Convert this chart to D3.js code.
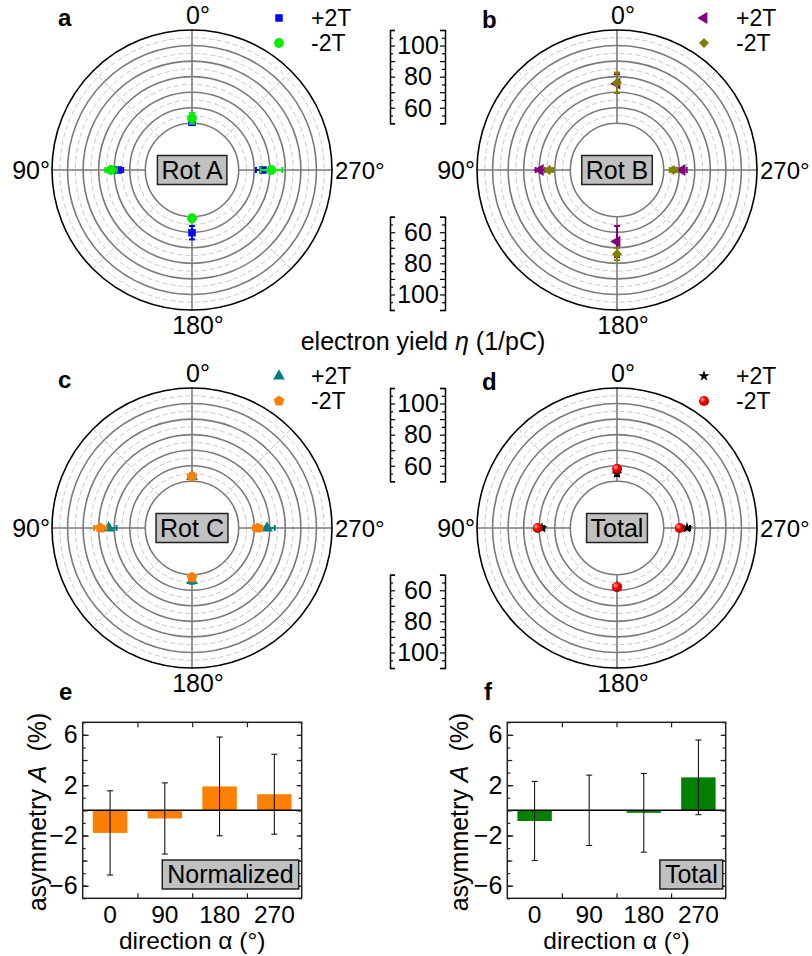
<!DOCTYPE html>
<html lang="en">
<head>
<meta charset="UTF-8">
<title>Electron yield</title>
<style>
  body { margin:0; background:#fff; }
  svg { display:block; font-family:"Liberation Sans", Arial, sans-serif; }
</style>
</head>
<body>
<div class="chart"></div>
<script src="https://d3js.org/d3.v7.min.js"></script>
<script>
// ---- data ----
const angles = [0, 90, 180, 270];

// Rot A
const rotA_plus = [50.6, 67.2, 60.3, 65.6];
const rotA_plusErr = [1.5, 3, 4.3, 4.5];
const rotA_minus = [53.3, 72.1, 51, 71];
const rotA_minusErr = [3.5, 3.7, 2, 7];
// Rot B
const rotB_plus = [75.5, 69.3, 66, 61.8];
const rotB_plusErr = [6, 3, 10, 3];
const rotB_minus = [76.1, 63.5, 74, 56.4];
const rotB_minusErr = [6.5, 2.5, 4, 2.5];
// Rot C
const rotC_plus = [53, 73.5, 53.8, 68.2];
const rotC_plusErr = [1.5, 5, 2, 5];
const rotC_minus = [53.2, 79, 51.7, 62.2];
const rotC_minusErr = [2, 4, 2, 3];
// Total
const total_plus = [55, 68.2, 57.5, 65];
const total_plusErr = [1.5, 1.5, 1.5, 2];
const total_minus = [58.1, 71, 58, 60.3];
const total_minusErr = [1.5, 1.5, 1.5, 1.5];

const radialDomain = [50, 110];
const scaleLabels = [60, 80, 100];

// asymmetry
const directions = ["0", "90", "180", "270"];
const asymNorm = [-1.8, -0.65, 1.9, 1.28];
const asymNormErr = [3.35, 2.83, 3.93, 3.18];
const asymTotal = [-0.85, 0, -0.2, 2.62];
const asymTotalErr = [3.15, 2.8, 3.13, 2.97];
const asymTicks = [-6, -2, 2, 6];

// ---- setup ----
const width = 812, height = 956;
const R = 140, R0 = 46.7;
const FS = 25;

const svg = d3.select('.chart').append('svg')
  .attr('width', width).attr('height', height);

const defs = svg.append('defs');
const grad = defs.append('radialGradient').attr('id', 'ball')
  .attr('cx', '35%').attr('cy', '35%').attr('r', '65%');
grad.append('stop').attr('offset', '0%').attr('stop-color', '#ffb0b0');
grad.append('stop').attr('offset', '45%').attr('stop-color', '#ff0000');
grad.append('stop').attr('offset', '100%').attr('stop-color', '#b00000');

const rScale = d3.scaleLinear().domain(radialDomain).range([R0, R]);

// custom pentagon for d3.symbol
const symbolPentagon = {
  draw(ctx, size) {
    const r = Math.sqrt(size / 2.378);
    for (let i = 0; i < 5; i++) {
      const a = -Math.PI / 2 + i * 2 * Math.PI / 5;
      if (i === 0) ctx.moveTo(r * Math.cos(a), r * Math.sin(a));
      else ctx.lineTo(r * Math.cos(a), r * Math.sin(a));
    }
    ctx.closePath();
  }
};

const panels = [
  { cx: 192, cy: 170, letter: 'a', lx: 58, ly: 26, name: 'Rot A',
    series: [
      { label: '+2T', v: rotA_plus, e: rotA_plusErr, color: '#0000ff', type: d3.symbolSquare, size: 56, rot: 0 },
      { label: '-2T', v: rotA_minus, e: rotA_minusErr, color: '#00ee00', type: d3.symbolCircle, size: 75, rot: 0 }
    ] },
  { cx: 617, cy: 170, letter: 'b', lx: 482, ly: 28, name: 'Rot B',
    series: [
      { label: '+2T', v: rotB_plus, e: rotB_plusErr, color: '#800080', type: d3.symbolTriangle, size: 60, rot: -90 },
      { label: '-2T', v: rotB_minus, e: rotB_minusErr, color: '#808000', type: d3.symbolSquare, size: 50, rot: 45 }
    ] },
  { cx: 192, cy: 528, letter: 'c', lx: 58, ly: 388, name: 'Rot C',
    series: [
      { label: '+2T', v: rotC_plus, e: rotC_plusErr, color: '#008080', type: d3.symbolTriangle, size: 60, rot: 0 },
      { label: '-2T', v: rotC_minus, e: rotC_minusErr, color: '#ff8000', type: symbolPentagon, size: 75, rot: 0 }
    ] },
  { cx: 617, cy: 528, letter: 'd', lx: 482, ly: 390, name: 'Total',
    series: [
      { label: '+2T', v: total_plus, e: total_plusErr, color: '#000000', type: d3.symbolStar, size: 40, rot: 0 },
      { label: '-2T', v: total_minus, e: total_minusErr, color: 'url(#ball)', type: d3.symbolCircle, size: 80, rot: 0, ecolor: '#ff0000' }
    ] }
];

function pos(a, v) {
  const t = a * Math.PI / 180, r = rScale(v);
  return [-r * Math.sin(t), -r * Math.cos(t)];
}

function marker(sel, s, x, y) {
  sel.append('path')
    .attr('d', d3.symbol().type(s.type).size(s.size)())
    .attr('transform', `translate(${x},${y}) rotate(${s.rot})`)
    .attr('fill', s.color);
}

function boxLabel(g, x, y, txt, fs) {
  const t = g.append('text').attr('x', x).attr('y', y)
    .attr('text-anchor', 'middle').attr('dy', '0.35em')
    .attr('font-size', fs).text(txt);
  const bb = t.node().getBBox();
  g.insert('rect', 'text')
    .attr('x', bb.x - 4).attr('y', y - 14.5)
    .attr('width', bb.width + 8).attr('height', 29)
    .attr('fill', '#c0c0c0').attr('stroke', '#222').attr('stroke-width', 1.5);
}

function polarPanel(p) {
  const g = svg.append('g').attr('transform', `translate(${p.cx},${p.cy})`);
  g.append('circle').attr('r', R).attr('fill', '#fff');

  // minor dashed rings
  g.selectAll('.dring').data(d3.range(55, 110, 10)).join('circle')
    .attr('r', d => rScale(d)).attr('fill', 'none')
    .attr('stroke', '#c8c8c8').attr('stroke-width', 1).attr('stroke-dasharray', '5,3');

  // diagonal dashed spokes
  g.selectAll('.dspoke').data([45, 135, 225, 315]).join('line')
    .attr('x1', d => pos(d, radialDomain[0])[0]).attr('y1', d => pos(d, radialDomain[0])[1])
    .attr('x2', d => pos(d, radialDomain[1])[0]).attr('y2', d => pos(d, radialDomain[1])[1])
    .attr('stroke', '#c8c8c8').attr('stroke-width', 1).attr('stroke-dasharray', '5,3');

  // major rings
  g.selectAll('.ring').data(d3.range(50, 101, 10)).join('circle')
    .attr('r', d => rScale(d)).attr('fill', 'none')
    .attr('stroke', '#7a7a7a').attr('stroke-width', 1.6);

  // spokes
  g.selectAll('.spoke').data(angles).join('line')
    .attr('x1', d => pos(d, radialDomain[0])[0]).attr('y1', d => pos(d, radialDomain[0])[1])
    .attr('x2', d => pos(d, radialDomain[1])[0]).attr('y2', d => pos(d, radialDomain[1])[1])
    .attr('stroke', '#7a7a7a').attr('stroke-width', 1.6);

  g.append('circle').attr('r', R).attr('fill', 'none').attr('stroke', '#000').attr('stroke-width', 1.6);

  // angle labels
  g.append('text').attr('x', 6).attr('y', -146).attr('text-anchor', 'middle').attr('font-size', FS).text('0°');
  g.append('text').attr('x', 6).attr('y', 164).attr('text-anchor', 'middle').attr('font-size', FS).text('180°');
  g.append('text').attr('x', -142).attr('y', 9).attr('text-anchor', 'end').attr('font-size', FS).text('90°');
  g.append('text').attr('x', 143).attr('y', 9).attr('text-anchor', 'start').attr('font-size', 24).text('270°');

  // data
  p.series.forEach(s => {
    const ec = s.ecolor || s.color;
    angles.forEach((a, i) => {
      const v = s.v[i], e = s.e[i];
      const t = a * Math.PI / 180;
      const px = Math.cos(t) * 3, py = -Math.sin(t) * 3;
      const [x1, y1] = pos(a, v - e), [x2, y2] = pos(a, v + e);
      g.append('line').attr('x1', x1).attr('y1', y1).attr('x2', x2).attr('y2', y2)
        .attr('stroke', ec).attr('stroke-width', 2);
      [[x1, y1], [x2, y2]].forEach(([x, y]) => {
        g.append('line').attr('x1', x - px).attr('y1', y - py).attr('x2', x + px).attr('y2', y + py)
          .attr('stroke', ec).attr('stroke-width', 2);
      });
      const [mx, my] = pos(a, v);
      marker(g, s, mx, my);
    });
  });

  boxLabel(g, 0, 0, p.name, FS);

  // legend
  p.series.forEach((s, i) => {
    const y = -152 + i * 25;
    marker(g, s, 87, y);
    g.append('text').attr('x', 119).attr('y', y + 8).attr('font-size', 23).text(s.label);
  });

  svg.append('text').attr('x', p.lx).attr('y', p.ly).attr('font-size', 24)
    .attr('font-weight', 'bold').text(p.letter);
}

panels.forEach(polarPanel);

// radial scale bars between panels
function scaleBar(cy, dir) {
  const y = d3.scaleLinear().domain(radialDomain)
    .range(dir < 0 ? [cy - R0, cy - R] : [cy + R0, cy + R]);
  const g = svg.append('g');
  const ticks = d3.range(50, 111, 5);
  const left = g.append('g').attr('transform', 'translate(390,0)')
    .call(d3.axisRight(y).tickValues(ticks).tickSize(3).tickSizeOuter(5).tickFormat(''));
  const right = g.append('g').attr('transform', 'translate(445,0)')
    .call(d3.axisLeft(y).tickValues(ticks).tickSize(3).tickSizeOuter(5).tickFormat(''));
  [left, right].forEach(a => {
    a.selectAll('.tick line').attr('x2', (d, i, n) => {
      const base = +d3.select(n[i]).attr('x2');
      return d % 10 === 0 ? base * 1.7 : base;
    }).attr('stroke', '#000').attr('stroke-width', 1.2);
    a.select('.domain').attr('stroke', '#000').attr('stroke-width', 1.5);
  });
  g.selectAll('.lbl').data(scaleLabels).join('text')
    .attr('x', 418).attr('y', d => y(d)).attr('dy', '0.35em')
    .attr('text-anchor', 'middle').attr('font-size', FS).text(d => d);
}
scaleBar(170, -1); scaleBar(170, 1);
scaleBar(528, -1); scaleBar(528, 1);

const yl = svg.append('text').attr('x', 423).attr('y', 350).attr('text-anchor', 'middle').attr('font-size', FS);
yl.append('tspan').text('electron yield ');
yl.append('tspan').attr('font-style', 'italic').text('η');
yl.append('tspan').text(' (1/pC)');

// ---- asymmetry bar charts ----
const yA = d3.scaleLinear().domain([-7, 7]).range([898.3, 722.3]);

function barPanel(p) {
  const x = d3.scaleBand().domain(directions).range([p.x0, p.x1]);
  const bw = x.bandwidth() * 0.63;
  const g = svg.append('g');

  g.append('rect').attr('x', p.x0).attr('y', yA(7)).attr('width', p.x1 - p.x0)
    .attr('height', yA(-7) - yA(7)).attr('fill', '#fff');

  g.selectAll('.bar').data(p.v).join('rect')
    .attr('x', (d, i) => x(directions[i]) + (x.bandwidth() - bw) / 2)
    .attr('y', d => yA(Math.max(0, d)))
    .attr('width', bw)
    .attr('height', d => Math.abs(yA(d) - yA(0)))
    .attr('fill', p.color);

  g.append('line').attr('x1', p.x0).attr('x2', p.x1).attr('y1', yA(0)).attr('y2', yA(0))
    .attr('stroke', '#000').attr('stroke-width', 1.5);

  p.v.forEach((v, i) => {
    const cx = x(directions[i]) + x.bandwidth() / 2;
    const e = p.e[i];
    g.append('line').attr('x1', cx).attr('x2', cx).attr('y1', yA(v - e)).attr('y2', yA(v + e))
      .attr('stroke', '#000').attr('stroke-width', 1);
    [v - e, v + e].forEach(t => g.append('line').attr('x1', cx - 3).attr('x2', cx + 3)
      .attr('y1', yA(t)).attr('y2', yA(t)).attr('stroke', '#000').attr('stroke-width', 1));
  });

  // axes
  const minor = d3.range(-7, 8, 1);
  const la = g.append('g').attr('transform', `translate(${p.x0},0)`)
    .call(d3.axisLeft(yA).tickValues(asymTicks).tickSize(-6).tickPadding(5));
  la.selectAll('text').attr('font-size', FS).attr('font-family', null).attr('fill', '#000');
  g.append('g').attr('transform', `translate(${p.x0},0)`)
    .call(d3.axisLeft(yA).tickValues(minor.filter(d => d % 2 === 0)).tickSize(-5).tickFormat(''));
  g.append('g').attr('transform', `translate(${p.x0},0)`)
    .call(d3.axisLeft(yA).tickValues(minor).tickSize(-3).tickFormat(''));
  g.append('g').attr('transform', `translate(${p.x1},0)`)
    .call(d3.axisRight(yA).tickValues(minor.filter(d => d % 2 === 0)).tickSize(-5).tickFormat(''));
  g.append('g').attr('transform', `translate(${p.x1},0)`)
    .call(d3.axisRight(yA).tickValues(minor).tickSize(-3).tickFormat(''));

  const edges = directions.slice(1).map(d => x(d));
  const edgeScale = d3.scaleIdentity();
  g.append('g').attr('transform', `translate(0,${yA(-7)})`)
    .call(d3.axisBottom(edgeScale).tickValues(edges).tickSize(-5).tickFormat(''));
  g.append('g').attr('transform', `translate(0,${yA(7)})`)
    .call(d3.axisTop(edgeScale).tickValues(edges).tickSize(-5).tickFormat(''));
  const ba = g.append('g').attr('transform', `translate(0,${yA(-7)})`)
    .call(d3.axisBottom(x).tickSize(0).tickPadding(7));
  ba.selectAll('text').attr('font-size', 24.5).attr('font-family', null).attr('fill', '#000');

  g.selectAll('.domain').remove();
  g.selectAll('.tick line').attr('stroke', '#222').attr('stroke-width', 1.2);

  g.append('rect').attr('x', p.x0).attr('y', yA(7)).attr('width', p.x1 - p.x0)
    .attr('height', yA(-7) - yA(7)).attr('fill', 'none')
    .attr('stroke', '#222').attr('stroke-width', 1.5);

  // box label
  const bg = g.append('g');
  const t = bg.append('text').attr('x', p.x1 - 8).attr('y', 874.5).attr('dy', '0.35em')
    .attr('text-anchor', 'end').attr('font-size', FS).text(p.name);
  const bb = t.node().getBBox();
  bg.insert('rect', 'text').attr('x', bb.x - 5).attr('y', 860)
    .attr('width', bb.width + 10).attr('height', 29)
    .attr('fill', '#c0c0c0').attr('stroke', '#222').attr('stroke-width', 1.5);

  // axis titles
  const yt = svg.append('text').attr('transform', `translate(${p.yx},812) rotate(-90)`)
    .attr('text-anchor', 'middle').attr('font-size', FS).attr('xml:space', 'preserve');
  yt.append('tspan').text('asymmetry ');
  yt.append('tspan').attr('font-style', 'italic').text('A');
  yt.append('tspan').attr('dx', 7).text(' (%)');

  svg.append('text').attr('x', (p.x0 + p.x1) / 2).attr('y', 949)
    .attr('text-anchor', 'middle').attr('font-size', 24.5).text('direction α (°)');

  svg.append('text').attr('x', p.lx).attr('y', 700).attr('font-size', 24)
    .attr('font-weight', 'bold').text(p.letter);
}

barPanel({ x0: 82.7, x1: 301.7, v: asymNorm, e: asymNormErr, color: '#ff8000',
  name: 'Normalized', yx: 46, lx: 59, letter: 'e' });
barPanel({ x0: 507.3, x1: 725.7, v: asymTotal, e: asymTotalErr, color: '#008000',
  name: 'Total', yx: 468, lx: 484, letter: 'f' });
</script>
</body>
</html>
